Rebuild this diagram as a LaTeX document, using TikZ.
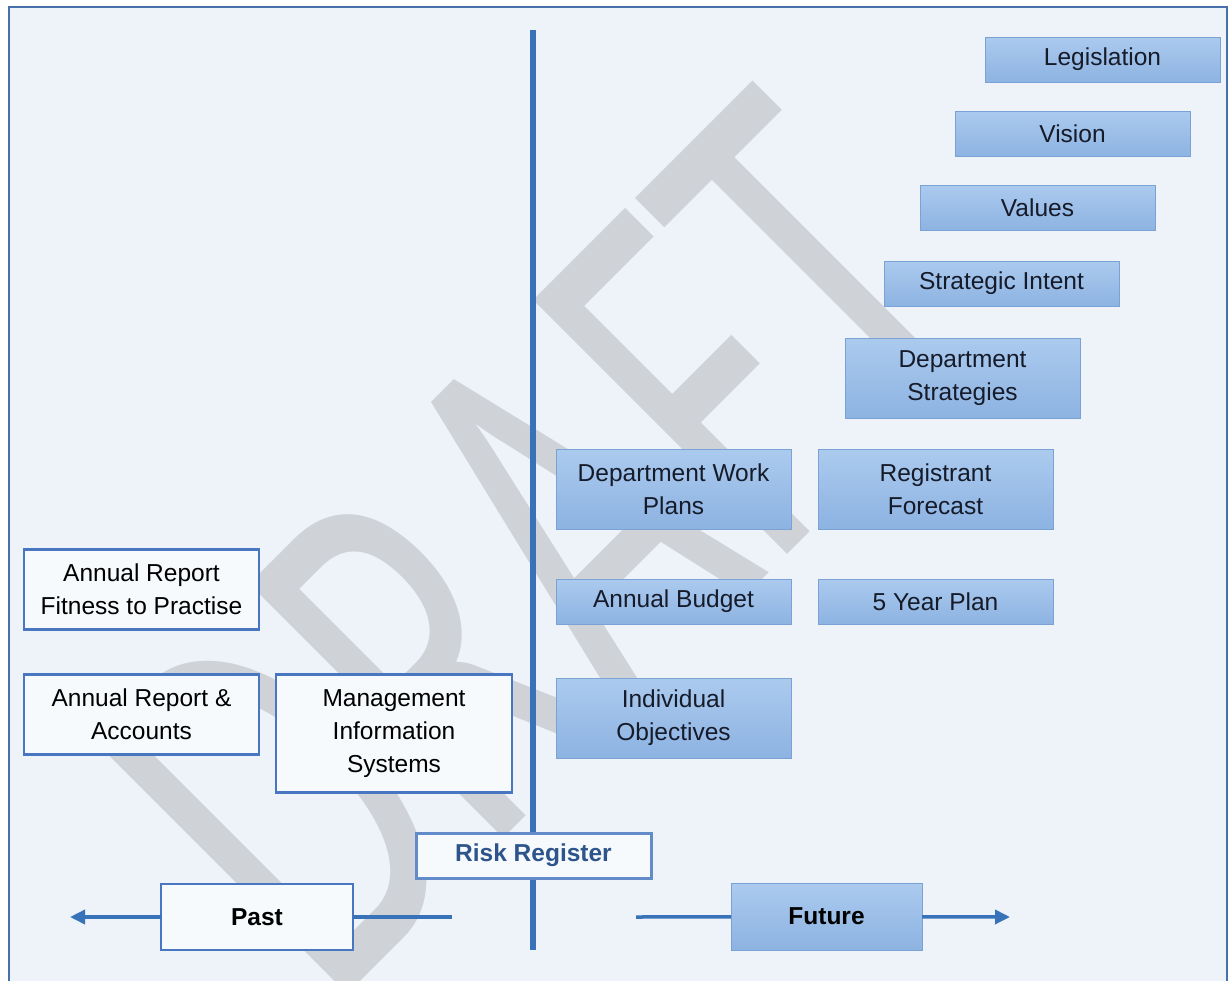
\documentclass[tikz,border=0pt]{standalone}
\usepackage{fontspec}
\setmainfont{Liberation Sans}
\newfontfamily\wmfont{Carlito}
\usetikzlibrary{positioning, arrows.meta}

\definecolor{pagebg}{RGB}{238,243,249}
\definecolor{framecol}{RGB}{72,112,170}
\definecolor{wmgray}{RGB}{207,210,215}
\definecolor{boxtop}{RGB}{171,202,238}
\definecolor{boxbot}{RGB}{141,179,226}
\definecolor{boxline}{RGB}{122,162,212}
\definecolor{inkdark}{RGB}{22,27,42}
\definecolor{outline}{RGB}{72,118,192}
\definecolor{axisblue}{RGB}{56,114,184}
\definecolor{riskblue}{RGB}{45,85,140}

\tikzset{
    planbox/.style={rectangle, draw=boxline, line width=1pt, top color=boxtop, bottom color=boxbot,
        text=inkdark, align=center, minimum width=235pt, minimum height=45pt, inner sep=2pt,
        outer sep=0pt, font=\fontsize{24.5}{33}\selectfont},
    reportbox/.style={rectangle, draw=outline, line width=2.5pt, fill=white!55!pagebg,
        text=black, align=center, minimum width=235pt, minimum height=45pt, inner sep=2pt,
        outer sep=0pt, font=\fontsize{24.5}{33}\selectfont},
    tallbox/.style={minimum height=80pt},
    timeline/.style={draw=axisblue, line width=3.5pt},
}

\begin{document}
\begin{tikzpicture}[x=1pt, y=-1pt]
    \useasboundingbox (0,0) rectangle (1230,980);
    \fill[white] (0,0) rectangle (1230,980);
    \draw[framecol, line width=2.5pt, fill=pagebg] (9,7) rectangle (1227,1000);

    % watermark
    \node (draft) [text=wmgray, anchor=base west, inner sep=0pt, rotate=45, xscale=0.64,
        font=\wmfont\fontsize{560}{600}\selectfont] at (330,1012) {DRAFT};

    % time axis
    \coordinate (axtop) at (533,30);
    \coordinate (axbot) at (533,950);
    \draw[axisblue, line width=6pt] (axtop) -- (axbot);

    % future side
    \node (legis) [planbox] at (1102.5,59.5) {Legislation};
    \node (vision) [planbox, below=29pt of legis, xshift=-30pt] {Vision};
    \node (values) [planbox, below=29pt of vision, xshift=-35pt] {Values};
    \node (intent) [planbox, below=31pt of values, xshift=-36pt] {Strategic Intent};
    \node (deptstrat) [planbox, tallbox, below=32pt of intent, xshift=-39pt] {Department\\Strategies};
    \node (forecast) [planbox, tallbox, below=31pt of deptstrat, xshift=-27pt] {Registrant\\Forecast};
    \node (fiveyear) [planbox, below=50pt of forecast] {5 Year Plan};
    \node (workplans) [planbox, tallbox, left=27pt of forecast] {Department Work\\Plans};
    \node (budget) [planbox, left=27pt of fiveyear] {Annual Budget};
    \node (objectives) [planbox, tallbox, below=54pt of budget] {Individual\\Objectives};

    % past side
    \node (fitness) [reportbox, tallbox] at (141.5,589.5) {Annual Report\\Fitness to Practise};
    \node (accounts) [reportbox, tallbox, below=45pt of fitness] {Annual Report \&\\Accounts};
    \node (mis) [reportbox, minimum width=236pt, minimum height=118pt,
        right=17pt of accounts.north east, anchor=north west] {Management\\Information\\Systems};

    \node (risk) [reportbox, draw=outline!85!white, line width=3pt, text=riskblue,
        font=\fontsize{24.5}{33}\selectfont\bfseries] at (533.5,855.5) {Risk Register};

    \node (past) [reportbox, minimum width=192pt, minimum height=66pt,
        font=\fontsize{24.5}{33}\selectfont\bfseries] at (257,917) {Past};
    \node (future) [planbox, minimum width=191pt, minimum height=67pt, text=black,
        font=\fontsize{24.5}{33}\selectfont\bfseries] at (826.5,916.5) {Future};

    \coordinate (pastend) at (70,917);
    \coordinate (pastcut) at (452,917);
    \coordinate (futstart) at (636,917);
    \coordinate (futend) at (1010,917);

    \draw[timeline, -{Triangle[length=15pt, width=14pt]}] (past) -- (pastend);
    \draw[timeline] (past) -- (pastcut);
    \draw[timeline] (futstart) -- (future);
    \draw[timeline, -{Triangle[length=15pt, width=14pt]}] (future) -- (futend);
\end{tikzpicture}
\end{document}
